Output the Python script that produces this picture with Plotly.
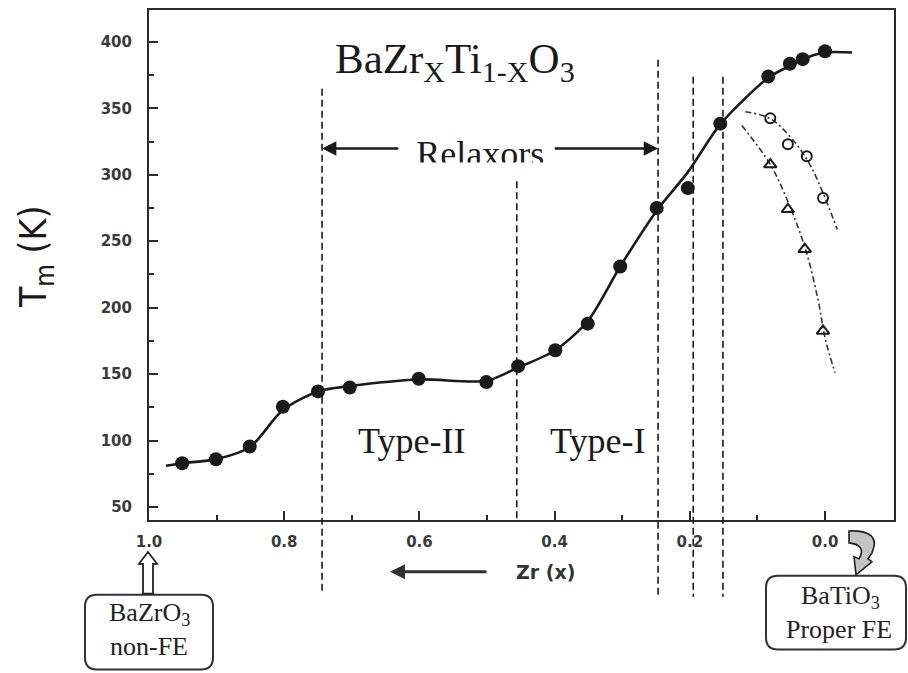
import plotly.graph_objects as go

# Tm of BaZr(x)Ti(1-x)O3 versus Zr content x
zr_x = [0.951, 0.901, 0.851, 0.802, 0.750, 0.703, 0.601, 0.501, 0.454, 0.399,
        0.351, 0.303, 0.249, 0.203, 0.155, 0.084, 0.052, 0.033, 0.0]
tm_k = [83, 86, 95.5, 125.5, 137, 140, 146.5, 144, 156, 168,
        188, 231, 275, 290, 338.5, 374, 383.5, 387, 393]

# smooth guide drawn through the Tm data
fit_x = [0.975, 0.951, 0.901, 0.851, 0.802, 0.750, 0.703, 0.601, 0.501, 0.454, 0.399,
         0.351, 0.303, 0.249, 0.203, 0.155, 0.084, 0.052, 0.033, 0.0, -0.04]
fit_y = [81, 83, 86, 95, 123, 137, 141, 146, 145, 155, 168,
         190, 231, 273, 302, 338, 373, 382, 387, 392, 392]

# the two lower-temperature transitions near BaTiO3
oc_x = [0.081, 0.055, 0.027, 0.003]
oc_y = [342.5, 323, 314, 282.5]
oc_guide_x = [0.118, 0.081, 0.052, 0.025, 0.004, -0.018]
oc_guide_y = [347.5, 342.2, 328.8, 310, 287.5, 259]

tri_x = [0.081, 0.055, 0.030, 0.003]
tri_y = [307.7, 274, 244, 182.5]
tri_guide_x = [0.123, 0.081, 0.052, 0.028, 0.010, -0.001, -0.015]
tri_guide_y = [337, 307.7, 276.2, 242.5, 205, 175, 151]

# composition boundaries between regimes
boundary_x = [0.744, 0.456, 0.247, 0.195, 0.151]

x_ticks = [1.0, 0.8, 0.6, 0.4, 0.2, 0.0]
y_ticks = [50, 100, 150, 200, 250, 300, 350, 400]

W, H = 908, 673
PL, PR, PT, PB = 149, 894, 8, 520
XR = [1.0, -0.102]
YR = [40.25, 424]


def fx(px):
    return (px - PL) / (PR - PL)


def fy(py):
    return (PB - py) / (PB - PT)


def pt(a, b):
    return f"{fx(a):.5f},{fy(b):.5f}"


def path_from(points):
    return "M " + " L ".join(pt(a, b) for a, b in points) + " Z"


def rounded_box(x0, y0, x1, y1, r):
    return (f"M {pt(x0 + r, y0)} L {pt(x1 - r, y0)} Q {pt(x1, y0)} {pt(x1, y0 + r)} "
            f"L {pt(x1, y1 - r)} Q {pt(x1, y1)} {pt(x1 - r, y1)} "
            f"L {pt(x0 + r, y1)} Q {pt(x0, y1)} {pt(x0, y1 - r)} "
            f"L {pt(x0, y0 + r)} Q {pt(x0, y0)} {pt(x0 + r, y0)} Z")


INK = "#1a1a1a"
SERIF = "Liberation Serif"
SANS = "DejaVu Sans"

fig = go.Figure()

fig.add_trace(go.Scatter(x=fit_x, y=fit_y, mode="lines",
                         line=dict(color=INK, width=2.6, shape="spline", smoothing=0.8),
                         hoverinfo="skip", showlegend=False))
fig.add_trace(go.Scatter(x=oc_guide_x, y=oc_guide_y, mode="lines",
                         line=dict(color="#333", width=1.6, dash="6px,3px,2px,3px",
                                   shape="spline"),
                         hoverinfo="skip", showlegend=False))
fig.add_trace(go.Scatter(x=tri_guide_x, y=tri_guide_y, mode="lines",
                         line=dict(color="#333", width=1.6, dash="6px,3px,2px,3px",
                                   shape="spline"),
                         hoverinfo="skip", showlegend=False))
fig.add_trace(go.Scatter(x=zr_x, y=tm_k, mode="markers",
                         marker=dict(symbol="circle", size=14, color=INK),
                         showlegend=False))
fig.add_trace(go.Scatter(x=oc_x, y=oc_y, mode="markers",
                         marker=dict(symbol="circle-open", size=10, color=INK,
                                     line=dict(width=2)),
                         showlegend=False))
fig.add_trace(go.Scatter(x=tri_x, y=tri_y, mode="markers",
                         marker=dict(symbol="triangle-up-open", size=11, color=INK,
                                     line=dict(width=2)),
                         showlegend=False))
fig.add_trace(go.Scatter(x=[0.51], y=[313.5], mode="text", text=["Relaxors"],
                         textfont=dict(family=SERIF, size=36, color=INK),
                         hoverinfo="skip", showlegend=False, cliponaxis=False))

shapes = []
# dashed regime boundaries (pixel extents top/bottom)
extents = [(87, 595), (180, 520), (58, 597), (75, 597), (75, 597)]
for bx, (top, bot) in zip(boundary_x, extents):
    shapes.append(dict(type="line", xref="x", yref="paper", x0=bx, x1=bx,
                       y0=fy(top), y1=fy(bot),
                       line=dict(color=INK, width=1.6, dash="7px,4px")))

# lower edge of the "Relaxors" label is masked
shapes.append(dict(type="rect", xref="paper", yref="paper", layer="above",
                   x0=fx(405), x1=fx(550), y0=fy(174), y1=fy(161),
                   fillcolor="white", line=dict(width=0)))

# end-member boxes
shapes.append(dict(type="path", xref="paper", yref="paper",
                   path=rounded_box(85, 595, 213, 670, 12),
                   line=dict(color="#333", width=2), fillcolor="white"))
shapes.append(dict(type="path", xref="paper", yref="paper",
                   path=rounded_box(766, 576, 906, 650, 12),
                   line=dict(color="#333", width=2), fillcolor="white"))

# hollow arrow from the BaZrO3 box up to x = 1.0
shapes.append(dict(type="path", xref="paper", yref="paper",
                   path=path_from([(143, 594), (143, 564), (139, 564), (148, 552),
                                   (157, 564), (153, 564), (153, 594)]),
                   line=dict(color="#222", width=1.8), fillcolor="white"))

# curved arrow from x = 0.0 down to the BaTiO3 box
curl = (f"M {pt(849, 531)} Q {pt(882, 530)} {pt(872, 553)} L {pt(868, 559)} "
        f"L {pt(872, 562)} L {pt(856, 575)} L {pt(854, 557)} L {pt(859, 559)} "
        f"Q {pt(867, 545)} {pt(849, 543)} Z")
shapes.append(dict(type="path", xref="paper", yref="paper", path=curl,
                   line=dict(color="#222", width=1.6), fillcolor="#c4c4c4"))


def label(px, py, text, family, size, color=INK, angle=0):
    return dict(xref="paper", yref="paper", x=fx(px), y=fy(py), text=text,
                showarrow=False, xanchor="center", yanchor="middle", textangle=angle,
                font=dict(family=family, size=size, color=color))


annotations = [
    label(455, 60, "BaZr<sub>X</sub>Ti<sub>1-X</sub>O<sub>3</sub>", SERIF, 43),
    label(411, 441, "Type-II", SERIF, 36),
    label(597, 441, "Type-I", SERIF, 36),
    label(545, 572, "<b>Zr (x)</b>", SANS, 19, "#333"),
    label(36, 256, "T<sub>m</sub> (K)", "DejaVu Sans Condensed, Liberation Sans", 37,
          INK, -90),
    label(149, 614, "BaZrO<sub>3</sub>", SERIF, 26, "#222"),
    label(149, 647, "non-FE", SERIF, 26, "#222"),
    label(840, 597, "BaTiO<sub>3</sub>", SERIF, 26, "#222"),
    label(839, 630, "Proper FE", SERIF, 26, "#222"),
]

# Relaxors span arrows
ya = 319.8
annotations.append(dict(xref="x", yref="y", axref="x", ayref="y",
                        x=0.744, y=ya, ax=0.629, ay=ya, text="", showarrow=True,
                        arrowhead=2, arrowsize=1.1, arrowwidth=2.6, arrowcolor=INK))
annotations.append(dict(xref="x", yref="y", axref="x", ayref="y",
                        x=0.247, y=ya, ax=0.402, ay=ya, text="", showarrow=True,
                        arrowhead=2, arrowsize=1.1, arrowwidth=2.6, arrowcolor=INK))
# direction arrow of the x caption
annotations.append(dict(xref="paper", yref="paper", x=fx(390), y=fy(572),
                        ax=98, ay=0, text="", showarrow=True,
                        arrowhead=2, arrowsize=1.0, arrowwidth=3, arrowcolor="#333"))

axis_common = dict(showline=True, mirror=True, linecolor="#2a2a2a", linewidth=2,
                   ticks="inside", ticklen=9, tickwidth=2, tickcolor="#2a2a2a",
                   showgrid=False, zeroline=False,
                   tickfont=dict(family=SANS, size=15, color="#3a3a3a", weight="bold"))

fig.update_layout(
    width=W, height=H,
    margin=dict(l=PL, r=W - PR, t=PT, b=H - PB),
    paper_bgcolor="white", plot_bgcolor="white",
    xaxis=dict(range=XR, tickvals=x_ticks, ticktext=[f"{v:.1f}" for v in x_ticks],
               ticklabelstandoff=7,
               minor=dict(tickvals=[0.9, 0.7, 0.5, 0.3, 0.1], ticks="inside",
                          ticklen=5, tickwidth=2, tickcolor="#2a2a2a"),
               **axis_common),
    yaxis=dict(range=YR, tickvals=y_ticks, ticklabelstandoff=12,
               minor=dict(tickvals=[75, 125, 175, 225, 275, 325, 375], ticks="inside",
                          ticklen=5, tickwidth=2, tickcolor="#2a2a2a"),
               **axis_common),
    shapes=shapes,
    annotations=annotations,
)

fig.write_html("out.html")
